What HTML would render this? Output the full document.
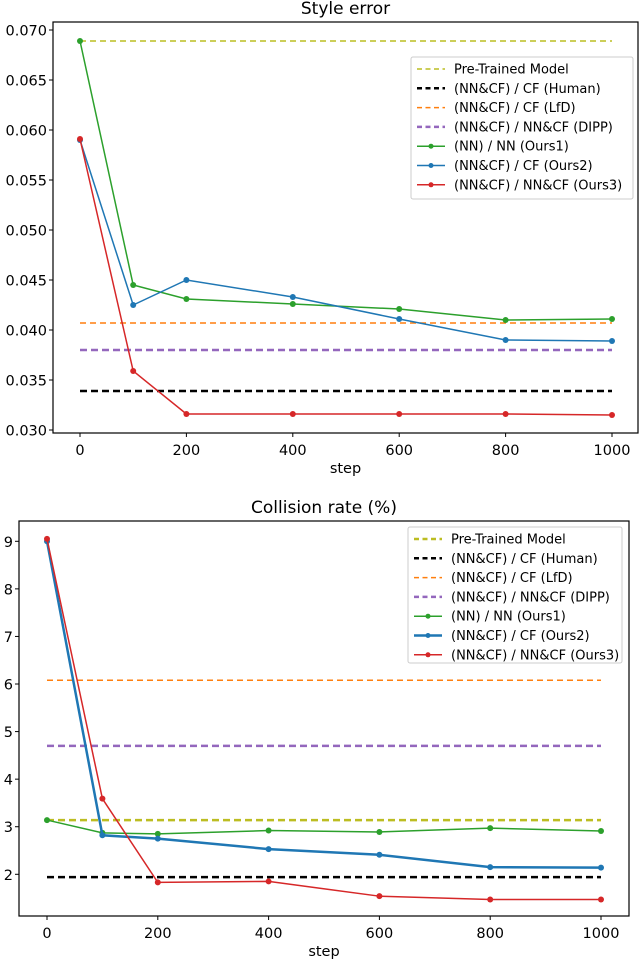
<!DOCTYPE html>
<html><head><meta charset="utf-8"><style>
body{margin:0;background:#fff}
svg{display:block;font-family:"DejaVu Sans","Liberation Sans",sans-serif}
</style></head><body>
<svg id="c" width="640" height="960" viewBox="0 0 640 960"></svg>
<script>
const steps=[0,100,200,400,600,800,1000];
const xTicks=[0,200,400,600,800,1000];
const styleLabels=['Pre-Trained Model','(NN&CF) / CF (Human)','(NN&CF) / CF (LfD)','(NN&CF) / NN&CF (DIPP)','(NN) / NN (Ours1)','(NN&CF) / CF (Ours2)','(NN&CF) / NN&CF (Ours3)'];
const styleBaselines=[0.0689,0.0339,0.0407,0.0380];
const styleOurs1=[0.0689,0.0445,0.0431,0.0426,0.0421,0.0410,0.0411];
const styleOurs2=[0.0590,0.0425,0.0450,0.0433,0.0411,0.0390,0.0389];
const styleOurs3=[0.0591,0.0359,0.0316,0.0316,0.0316,0.0316,0.0315];
const styleYTicks=[0.030,0.035,0.040,0.045,0.050,0.055,0.060,0.065,0.070];
const collBaselines=[3.14,1.94,6.08,4.70];
const collOurs1=[3.14,2.87,2.85,2.92,2.89,2.97,2.91];
const collOurs2=[9.00,2.82,2.75,2.53,2.41,2.15,2.14];
const collOurs3=[9.05,3.59,1.83,1.85,1.54,1.47,1.47];
const collYTicks=[2,3,4,5,6,7,8,9];

const svg=document.getElementById('c');const NS='http://www.w3.org/2000/svg';
function mk(t,a,p){const e=document.createElementNS(NS,t);for(const k in a)e.setAttribute(k,a[k]);(p||svg).appendChild(e);return e;}
const colors=['#bcbd22','#000000','#ff7f0e','#9467bd','#2ca02c','#1f77b4','#d62728'];

function chart(o){
  const g=mk('g',{});
  
  
  const X=v=>o.x0+(v-0)/1000*(o.x1-o.x0);
  const Y=v=>o.y0+(v-o.v0)/(o.v1-o.v0)*(o.y1-o.y0);
  const t=mk('text',{x:(o.L+o.R)/2,y:o.titleY,'text-anchor':'middle','font-size':17,fill:'#000'},g);t.textContent=o.title;
  
  o.base.forEach((v,i)=>{const l=mk('line',{x1:X(0),x2:X(1000),y1:Y(v),y2:Y(v),stroke:colors[i],'stroke-width':o.bw[i],'stroke-dasharray':o.bw[i]>2?'7,4':'6,4'},g);
    });
  [o.s1,o.s2,o.s3].forEach((s,j)=>{const c=colors[4+j];
    const p=mk('polyline',{points:s.map((v,i)=>X(steps[i])+','+Y(v)).join(' '),fill:'none',stroke:c,'stroke-width':o.lw[j]},g);
    
    s.forEach((v,i)=>{const m=mk('circle',{cx:X(steps[i]),cy:Y(v),r:3,fill:c},g);
      });
  });
  const f=mk('rect',{x:o.L,y:o.T,width:o.R-o.L,height:o.B-o.T,fill:'none',stroke:'#000','stroke-width':1.2},g);
  
  xTicks.forEach(v=>{mk('line',{x1:X(v),x2:X(v),y1:o.B,y2:o.B+4,stroke:'#000'},g);
    const tt=mk('text',{x:X(v),y:o.B+22,'text-anchor':'middle','font-size':14.5},g);tt.textContent=v;
    });
  o.yt.forEach(v=>{mk('line',{x1:o.L-4,x2:o.L,y1:Y(v),y2:Y(v),stroke:'#000'},g);
    const tt=mk('text',{x:o.L-6,y:Y(v)+5.5,'text-anchor':'end','font-size':14.5},g);tt.textContent=o.fmt(v);
    });
  const xl=mk('text',{x:(o.L+o.R)/2,y:o.B+40,'text-anchor':'middle','font-size':14.5},g);xl.textContent='step';
  
  const lg=mk('g',{},g);
  mk('rect',{x:o.lx,y:o.ly,width:o.lwid,height:o.lh,rx:2,fill:'#fff',stroke:'#ccc'},lg);
  styleLabels.forEach((s,i)=>{const yy=o.ly+12+i*19.3;
    const e=mk('g',{},lg);
    if(i<4)mk('line',{x1:o.lx+6,x2:o.lx+34,y1:yy,y2:yy,stroke:colors[i],'stroke-width':o.bw[i],'stroke-dasharray':'5,3.5'},e);
    else{mk('line',{x1:o.lx+6,x2:o.lx+34,y1:yy,y2:yy,stroke:colors[i],'stroke-width':o.lw[i-4]},e);mk('circle',{cx:o.lx+20,cy:yy,r:2.5,fill:colors[i]},e);}
    const tx=mk('text',{x:o.lx+43,y:yy+4.5,'font-size':13},e);tx.textContent=s;});
}
chart({name:'style-error-chart',title:'Style error',titleY:14,L:53,R:638,T:22,B:433,x0:80,x1:612,y0:30,y1:430,v0:0.070,v1:0.030,
  base:styleBaselines,s1:styleOurs1,s2:styleOurs2,s3:styleOurs3,yt:styleYTicks,fmt:v=>v.toFixed(3),
  bw:[1.5,2.5,1.5,2.5],lw:[1.5,1.5,1.5],lx:411,ly:57,lwid:222,lh:142});
chart({name:'collision-rate-chart',title:'Collision rate (%)',titleY:513,L:19,R:629,T:521,B:916,x0:47,x1:601,y0:541.3,y1:874.3,v0:9,v1:2,
  base:collBaselines,s1:collOurs1,s2:collOurs2,s3:collOurs3,yt:collYTicks,fmt:v=>String(v),
  bw:[2.5,2.5,1.5,2.5],lw:[1.5,2.5,1.5],lx:408,ly:527,lwid:214,lh:136});
</script>
</body></html>
